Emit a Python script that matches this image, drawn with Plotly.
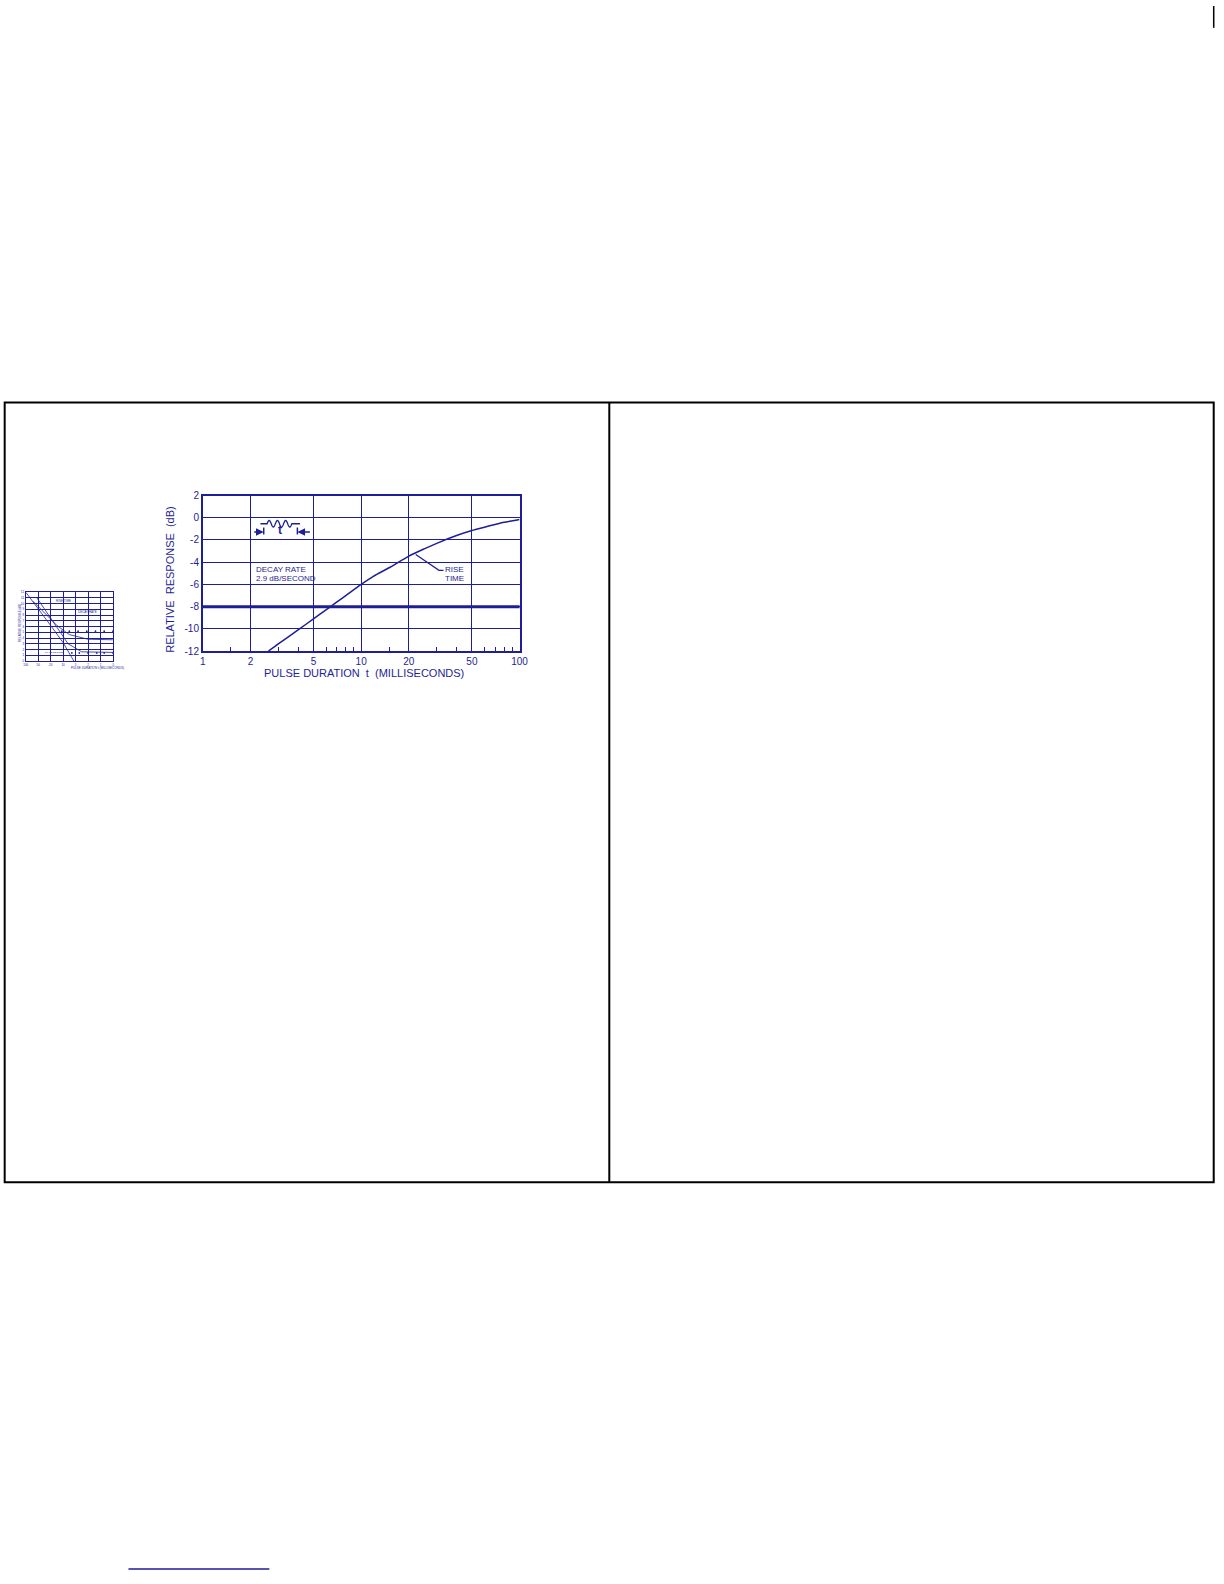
import numpy as np
import plotly.graph_objects as go

W, H = 1224, 1584
NAVY = "#1e1e96"
FONT = "Liberation Sans, Arial, sans-serif"

# ---- main chart data ----
pulse_ms = [2.6, 3, 4, 5, 6, 7, 8, 10, 12, 15, 20, 25, 30, 40, 50, 60, 70, 80, 100]
rel_resp_db = [-12.0, -11.35, -10.1, -9.1, -8.3, -7.6, -7.0, -6.0, -5.25, -4.5, -3.45, -2.8, -2.3,
               -1.6, -1.15, -0.85, -0.6, -0.4, -0.15]
x_ticks = [1, 2, 5, 10, 20, 50, 100]
x_ticktext = ["1", "2", "5", "10", "20", "50", "100"]
x_minor = [1.5, 3, 4, 6, 7, 8, 9, 15, 30, 40, 60, 70, 80, 90]
y_ticks = [-12, -10, -8, -6, -4, -2, 0, 2]
y_ticktext = ["-12", "-10", "-8", "-6", "-4", "-2", "0", "2"]
ref_level_db = -8
leader_x = [22.1, 31.0, 33.1]
leader_y = [-3.3, -4.73, -4.73]

# ---- thumbnail chart data (approximate) ----
th_a_x = [0, 1, 2, 3, 3.86]
th_a_y = [12, 9.2, 6.2, 3.2, 0]
th_b_x = [0.6, 1.5, 2.5, 3.5, 5, 7]
th_b_y = [10.4, 8.4, 6.2, 4.6, 3.8, 3.7]
th_c_x = [0.9, 1.6, 2.3, 3.4, 4.5, 7]
th_c_y = [11.0, 8.8, 6.4, 3.0, 1.6, 1.5]
th_dot1_x = [2.9, 3.5, 4.2, 4.9, 5.6, 6.3, 7]
th_dot1_y = [5.2, 5.2, 5.2, 5.2, 5.2, 5.2, 5.2]
th_dot2_x = [3.7, 4.3, 5.0, 5.7, 6.3, 7]
th_dot2_y = [1.4, 1.4, 1.4, 1.4, 1.4, 1.4]


def px(x):
    return x / W


def py(y):
    return 1 - y / H


fig = go.Figure()

fig.add_trace(go.Scatter(x=pulse_ms, y=rel_resp_db, mode="lines",
                         line=dict(color=NAVY, width=1.5, shape="spline", smoothing=0.6),
                         xaxis="x", yaxis="y", showlegend=False, hoverinfo="skip"))
fig.add_trace(go.Scatter(x=leader_x, y=leader_y, mode="lines", line=dict(color=NAVY, width=1.2),
                         xaxis="x", yaxis="y", showlegend=False, hoverinfo="skip"))

for xs, ys in [(th_a_x, th_a_y), (th_b_x, th_b_y), (th_c_x, th_c_y)]:
    fig.add_trace(go.Scatter(x=xs, y=ys, mode="lines", line=dict(color=NAVY, width=0.8),
                             xaxis="x2", yaxis="y2", showlegend=False, hoverinfo="skip"))
for xs, ys in [(th_dot1_x, th_dot1_y), (th_dot2_x, th_dot2_y)]:
    fig.add_trace(go.Scatter(x=xs, y=ys, mode="markers", marker=dict(color=NAVY, size=1.8),
                             xaxis="x2", yaxis="y2", showlegend=False, hoverinfo="skip"))

axis_common = dict(showline=True, linecolor=NAVY, linewidth=1.5, mirror=True, showgrid=True,
                   gridcolor=NAVY, gridwidth=1.3, zeroline=False, ticks="",
                   tickfont=dict(family=FONT, size=10, color=NAVY), fixedrange=True)

fig.update_layout(
    width=W, height=H, margin=dict(l=0, r=0, t=0, b=0),
    paper_bgcolor="white", plot_bgcolor="white",
    xaxis=dict(type="log", range=[0, 2], domain=[px(201.7), px(521.7)], anchor="y",
               tickvals=x_ticks, ticktext=x_ticktext,
               minor=dict(tickvals=x_minor, ticks="inside", ticklen=4, tickwidth=1.2,
                          tickcolor=NAVY, showgrid=False),
               **axis_common),
    yaxis=dict(range=[-12, 2], domain=[py(650), py(493.3)], anchor="x",
               tickvals=y_ticks, ticktext=y_ticktext, **axis_common),
    xaxis2=dict(range=[0, 7], dtick=1, domain=[px(23), px(111)], anchor="y2",
                showline=True, linecolor=NAVY, linewidth=1, mirror=True, showgrid=True,
                gridcolor=NAVY, gridwidth=1, zeroline=False, ticks="",
                tickvals=[0, 1, 2, 3, 4, 5, 6, 7],
                ticktext=["100", "50", "20", "10", "5", "2", "1", ".5"],
                tickfont=dict(family=FONT, size=3, color=NAVY), fixedrange=True),
    yaxis2=dict(range=[0, 12], dtick=1, domain=[py(660), py(590.7)], anchor="x2",
                showline=True, linecolor=NAVY, linewidth=1, mirror=True, showgrid=True,
                gridcolor=NAVY, gridwidth=1, zeroline=False, ticks="",
                tickfont=dict(family=FONT, size=3, color=NAVY), fixedrange=True),
)

shapes = []
# reference level line
shapes.append(dict(type="line", xref="x domain", yref="y", x0=0, x1=1, y0=ref_level_db, y1=ref_level_db,
                   line=dict(color=NAVY, width=3)))
# page frame
shapes.append(dict(type="rect", xref="paper", yref="paper", x0=px(1.7), x1=px(1222.7), y0=py(1185.3), y1=py(399.5),
                   line=dict(color="black", width=2)))
shapes.append(dict(type="line", xref="paper", yref="paper", x0=px(612.3), x1=px(612.3), y0=py(1185.3), y1=py(399.5),
                   line=dict(color="black", width=2)))
shapes.append(dict(type="line", xref="paper", yref="paper", x0=px(1222.7), x1=px(1222.7), y0=py(0), y1=py(22),
                   line=dict(color="black", width=1.5)))
# link underline at bottom
shapes.append(dict(type="line", xref="paper", yref="paper", x0=px(126.7), x1=px(269), y0=py(1575), y1=py(1575),
                   line=dict(color=NAVY, width=1.5)))

# pulse icon
wx = np.linspace(266.7, 291.7, 80)
wy = 521.7 - 3.3 * np.sin((wx - 266.7) / 25.0 * 6 * np.pi)
path = "M {} {} L {} {} ".format(px(260), py(521.7), px(266.7), py(521.7))
path += " ".join("L {} {}".format(px(a), py(b)) for a, b in zip(wx, wy))
path += " L {} {}".format(px(300), py(521.7))
shapes.append(dict(type="path", xref="paper", yref="paper", path=path, line=dict(color=NAVY, width=1.3)))
for bx in (263.3, 297.3):
    shapes.append(dict(type="line", xref="paper", yref="paper", x0=px(bx), x1=px(bx), y0=py(525.5), y1=py(532.5),
                       line=dict(color=NAVY, width=1.5)))
fig.update_layout(shapes=shapes)

ann = []
ann.append(dict(text="PULSE DURATION  t  (MILLISECONDS)", x=px(365), y=py(671.7), xref="paper", yref="paper",
                showarrow=False, xanchor="center", yanchor="middle",
                font=dict(family=FONT, size=11, color=NAVY)))
ann.append(dict(text="RELATIVE  RESPONSE  (dB)", x=px(168.3), y=py(577.5), xref="paper", yref="paper",
                showarrow=False, xanchor="center", yanchor="middle", textangle=-90,
                font=dict(family=FONT, size=11, color=NAVY)))
for txt, x, y, xa in [("DECAY RATE", 253.3, 568, "left"), ("2.9 dB/SECOND", 253.3, 576.7, "left"),
                      ("RISE", 456, 568, "center"), ("TIME", 456, 576.7, "center")]:
    ann.append(dict(text=txt, x=px(x), y=py(y), xref="paper", yref="paper", showarrow=False,
                    xanchor=xa, yanchor="middle", font=dict(family=FONT, size=8, color=NAVY)))
ann.append(dict(text="<b>t</b>", x=px(279.3), y=py(528.5), xref="paper", yref="paper", showarrow=False,
                xanchor="center", yanchor="middle", font=dict(family=FONT, size=12, color=NAVY)))
ann.append(dict(text="", x=px(263.3), y=py(530), xref="paper", yref="paper", showarrow=True,
                ax=-11, ay=0, arrowhead=2, arrowsize=1.1, arrowwidth=1.4, arrowcolor=NAVY))
ann.append(dict(text="", x=px(297.3), y=py(530), xref="paper", yref="paper", showarrow=True,
                ax=14, ay=0, arrowhead=2, arrowsize=1.1, arrowwidth=1.4, arrowcolor=NAVY))
ann.append(dict(text="RELATIVE RESPONSE (dB)", x=px(13), y=py(622), xref="paper", yref="paper", showarrow=False,
                textangle=-90, font=dict(family=FONT, size=3, color=NAVY)))
ann.append(dict(text="PULSE DURATION t (MILLISECONDS)", x=px(67), y=py(667), xref="paper", yref="paper",
                showarrow=False, font=dict(family=FONT, size=3, color=NAVY)))
ann.append(dict(text="RISE TIME", x=2.3, y=10.5, xref="x2", yref="y2", showarrow=False, xanchor="left",
                font=dict(family=FONT, size=3, color=NAVY)))
ann.append(dict(text="DECAY RATE", x=4.0, y=8.6, xref="x2", yref="y2", showarrow=False, xanchor="left",
                font=dict(family=FONT, size=3, color=NAVY)))
ann.append(dict(text="DECAY RATE<br>2.9 dB/SECOND", x=1.4, y=1.8, xref="x2", yref="y2", showarrow=False,
                xanchor="left", font=dict(family=FONT, size=2.5, color=NAVY)))
fig.update_layout(annotations=ann)

post = ("var d=document.documentElement,b=document.body;"
        "d.style.margin='0';d.style.padding='0';d.style.overflow='hidden';"
        "b.style.margin='0';b.style.padding='0';b.style.overflow='hidden';"
        "var g=document.getElementById('{plot_id}');"
        "g.style.position='fixed';g.style.left='0px';g.style.top='0px';")
fig.write_html("out.html", config={"displayModeBar": False}, post_script=post)
